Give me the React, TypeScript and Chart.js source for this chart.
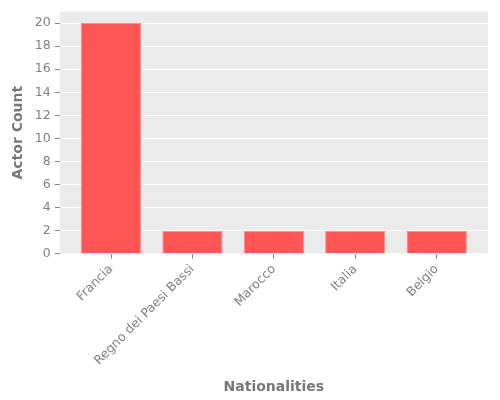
import React, { useEffect, useRef } from "react";
import { Chart, registerables } from "chart.js";

Chart.register(...registerables);

const categories = ["Francia", "Regno dei Paesi Bassi", "Marocco", "Italia", "Belgio"];
const actorCounts = [20, 2, 2, 2, 2];
const yTicks = [0, 2, 4, 6, 8, 10, 12, 14, 16, 18, 20];

const bgPlugin = {
  id: "plotBg",
  beforeDraw(chart: any) {
    const { ctx, chartArea } = chart;
    if (!chartArea) return;
    ctx.save();
    ctx.fillStyle = "#EBEBEB";
    ctx.fillRect(chartArea.left, chartArea.top, chartArea.right - chartArea.left, chartArea.bottom - chartArea.top);
    ctx.restore();
  },
};

export default function App() {
  const ref = useRef<HTMLCanvasElement>(null);
  useEffect(() => {
    document.body.style.margin = "0";
    const points = categories.map((_, i) => ({ x: i, y: actorCounts[i] }));
    const chart = new Chart(ref.current!, {
      type: "bar",
      data: {
        datasets: [
          {
            data: points as any,
            backgroundColor: "#FF5555",
            borderColor: "#FF8A8A",
            borderWidth: 1,
            barPercentage: 0.74,
            categoryPercentage: 1,
          },
        ],
      },
      options: {
        animation: false,
        responsive: false,
        devicePixelRatio: 1,
        layout: { padding: { top: 10, right: 12, left: 10, bottom: 4 } },
        plugins: { legend: { display: false }, tooltip: { enabled: false } },
        scales: {
          x: {
            type: "linear",
            min: -0.63,
            max: categories.length - 1 + 0.63,
            offset: false,
            afterBuildTicks: (axis: any) => {
              axis.ticks = categories.map((_, i) => ({ value: i }));
            },
            grid: {
              offset: false,
              drawOnChartArea: false,
              drawTicks: true,
              tickLength: 5,
              tickColor: "#888888",
            },
            border: { display: false },
            ticks: {
              minRotation: 45,
              maxRotation: 45,
              color: "#808080",
              font: { family: "DejaVu Sans", size: 12.5 },
              padding: 3,
              callback: (v: any) => categories[Math.round(Number(v))] ?? "",
            },
            title: {
              display: true,
              text: "Nationalities",
              color: "#777777",
              font: { family: "DejaVu Sans", size: 14, weight: "bold" },
              padding: { top: 8, bottom: 0 },
            },
          },
          y: {
            min: 0,
            max: 21,
            grid: {
              color: "#FFFFFF",
              lineWidth: 1,
              drawTicks: true,
              tickLength: 5,
              tickColor: "#888888",
            },
            border: { display: false },
            afterBuildTicks: (axis: any) => {
              axis.ticks = yTicks.map((v) => ({ value: v }));
            },
            ticks: {
              color: "#808080",
              font: { family: "DejaVu Sans", size: 12.5 },
              padding: 4,
            },
            title: {
              display: true,
              text: "Actor Count",
              color: "#777777",
              font: { family: "DejaVu Sans", size: 14, weight: "bold" },
              padding: { top: 0, bottom: 4 },
            },
          },
        },
      },
      plugins: [bgPlugin],
    });
    return () => chart.destroy();
  }, []);
  return <canvas ref={ref} width={500} height={400} style={{ display: "block" }} />;
}
